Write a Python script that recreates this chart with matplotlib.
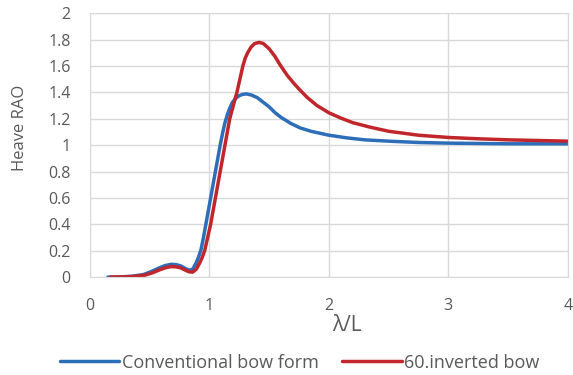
import matplotlib
matplotlib.use("Agg")
import matplotlib.pyplot as plt

# Conventional bow form
x_conv = [0.15, 0.25, 0.35, 0.45, 0.52, 0.58, 0.63, 0.68, 0.72, 0.76, 0.80, 0.83, 0.86, 0.89, 0.91,
          0.93, 0.95, 0.97, 0.99, 1.01, 1.03, 1.05, 1.07, 1.09, 1.11, 1.13, 1.15, 1.17, 1.19, 1.22,
          1.25, 1.28, 1.31, 1.35, 1.40, 1.45, 1.50, 1.55, 1.60, 1.68, 1.76, 1.85, 2.00, 2.15, 2.30,
          2.50, 2.75, 3.00, 3.50, 4.00]
y_conv = [0.0, 0.002, 0.006, 0.02, 0.045, 0.07, 0.088, 0.097, 0.095, 0.085, 0.065, 0.052, 0.06, 0.11, 0.155,
          0.21, 0.30, 0.40, 0.50, 0.60, 0.70, 0.80, 0.90, 1.00, 1.09, 1.17, 1.23, 1.28, 1.32, 1.355,
          1.375, 1.385, 1.388, 1.38, 1.36, 1.325, 1.29, 1.245, 1.21, 1.165, 1.13, 1.105, 1.075, 1.055, 1.04,
          1.03, 1.02, 1.015, 1.01, 1.01]

# 60.inverted bow
x_inv = [0.17, 0.28, 0.38, 0.46, 0.53, 0.59, 0.64, 0.68, 0.72, 0.76, 0.80, 0.83, 0.86, 0.89, 0.92,
         0.94, 0.96, 0.985, 1.01, 1.03, 1.05, 1.07, 1.09, 1.11, 1.13, 1.15, 1.17, 1.20, 1.23, 1.255,
         1.28, 1.30, 1.32, 1.35, 1.38, 1.417, 1.45, 1.50, 1.55, 1.59, 1.65, 1.70, 1.76, 1.82, 1.90,
         2.00, 2.10, 2.20, 2.35, 2.50, 2.75, 3.00, 3.25, 3.50, 3.75, 4.00]
y_inv = [0.0, 0.002, 0.006, 0.015, 0.035, 0.058, 0.073, 0.08, 0.078, 0.07, 0.052, 0.04, 0.038, 0.06, 0.11,
         0.15, 0.20, 0.30, 0.40, 0.50, 0.60, 0.70, 0.80, 0.90, 1.00, 1.10, 1.20, 1.30, 1.40, 1.50,
         1.60, 1.66, 1.70, 1.745, 1.77, 1.778, 1.77, 1.73, 1.67, 1.61, 1.53, 1.475, 1.415, 1.36, 1.30,
         1.245, 1.205, 1.17, 1.135, 1.105, 1.075, 1.058, 1.048, 1.04, 1.035, 1.03]

x_ticks = [0, 1, 2, 3, 4]
y_ticks = [0, 0.2, 0.4, 0.6, 0.8, 1, 1.2, 1.4, 1.6, 1.8, 2]
y_tick_labels = ["0", "0.2", "0.4", "0.6", "0.8", "1", "1.2", "1.4", "1.6", "1.8", "2"]

plt.rcParams['font.family'] = ['Open Sans', 'DejaVu Sans']
txt = '#595959'

fig = plt.figure(figsize=(5.73, 3.75), dpi=100)
ax = fig.add_axes([0.157, 0.261, 0.834, 0.704])

ax.plot(x_conv, y_conv, color='#2E6DB8', lw=2.5, label='Conventional bow form',
        solid_capstyle='round', solid_joinstyle='round')
ax.plot(x_inv, y_inv, color='#C0262B', lw=2.5, label='60.inverted bow',
        solid_capstyle='round', solid_joinstyle='round')

ax.set_xlim(0, 4)
ax.set_ylim(0, 2)
ax.set_xticks(x_ticks)
ax.set_yticks(y_ticks)
ax.set_yticklabels(y_tick_labels)
ax.grid(True, color='#D9D9D9', lw=1)
ax.set_axisbelow(True)
for s in ax.spines.values():
    s.set_color('#D9D9D9')
ax.tick_params(length=0, labelsize=11.5, colors=txt)
ax.tick_params(axis='y', pad=14)
ax.tick_params(axis='x', pad=15)
ax.set_xlabel('λ/L', fontsize=15, color=txt)
ax.xaxis.set_label_coords(0.538, -0.144)
ax.set_ylabel('Heave RAO', fontsize=12, color=txt)
ax.yaxis.set_label_coords(-0.13, 0.564)

leg = fig.legend(loc='center', bbox_to_anchor=(0.523, 0.033), ncol=2, frameon=False,
                 fontsize=13, handlelength=3.3, handletextpad=0.15, columnspacing=1.3)
for t in leg.get_texts():
    t.set_color(txt)

fig.savefig('out.png', dpi=100)
